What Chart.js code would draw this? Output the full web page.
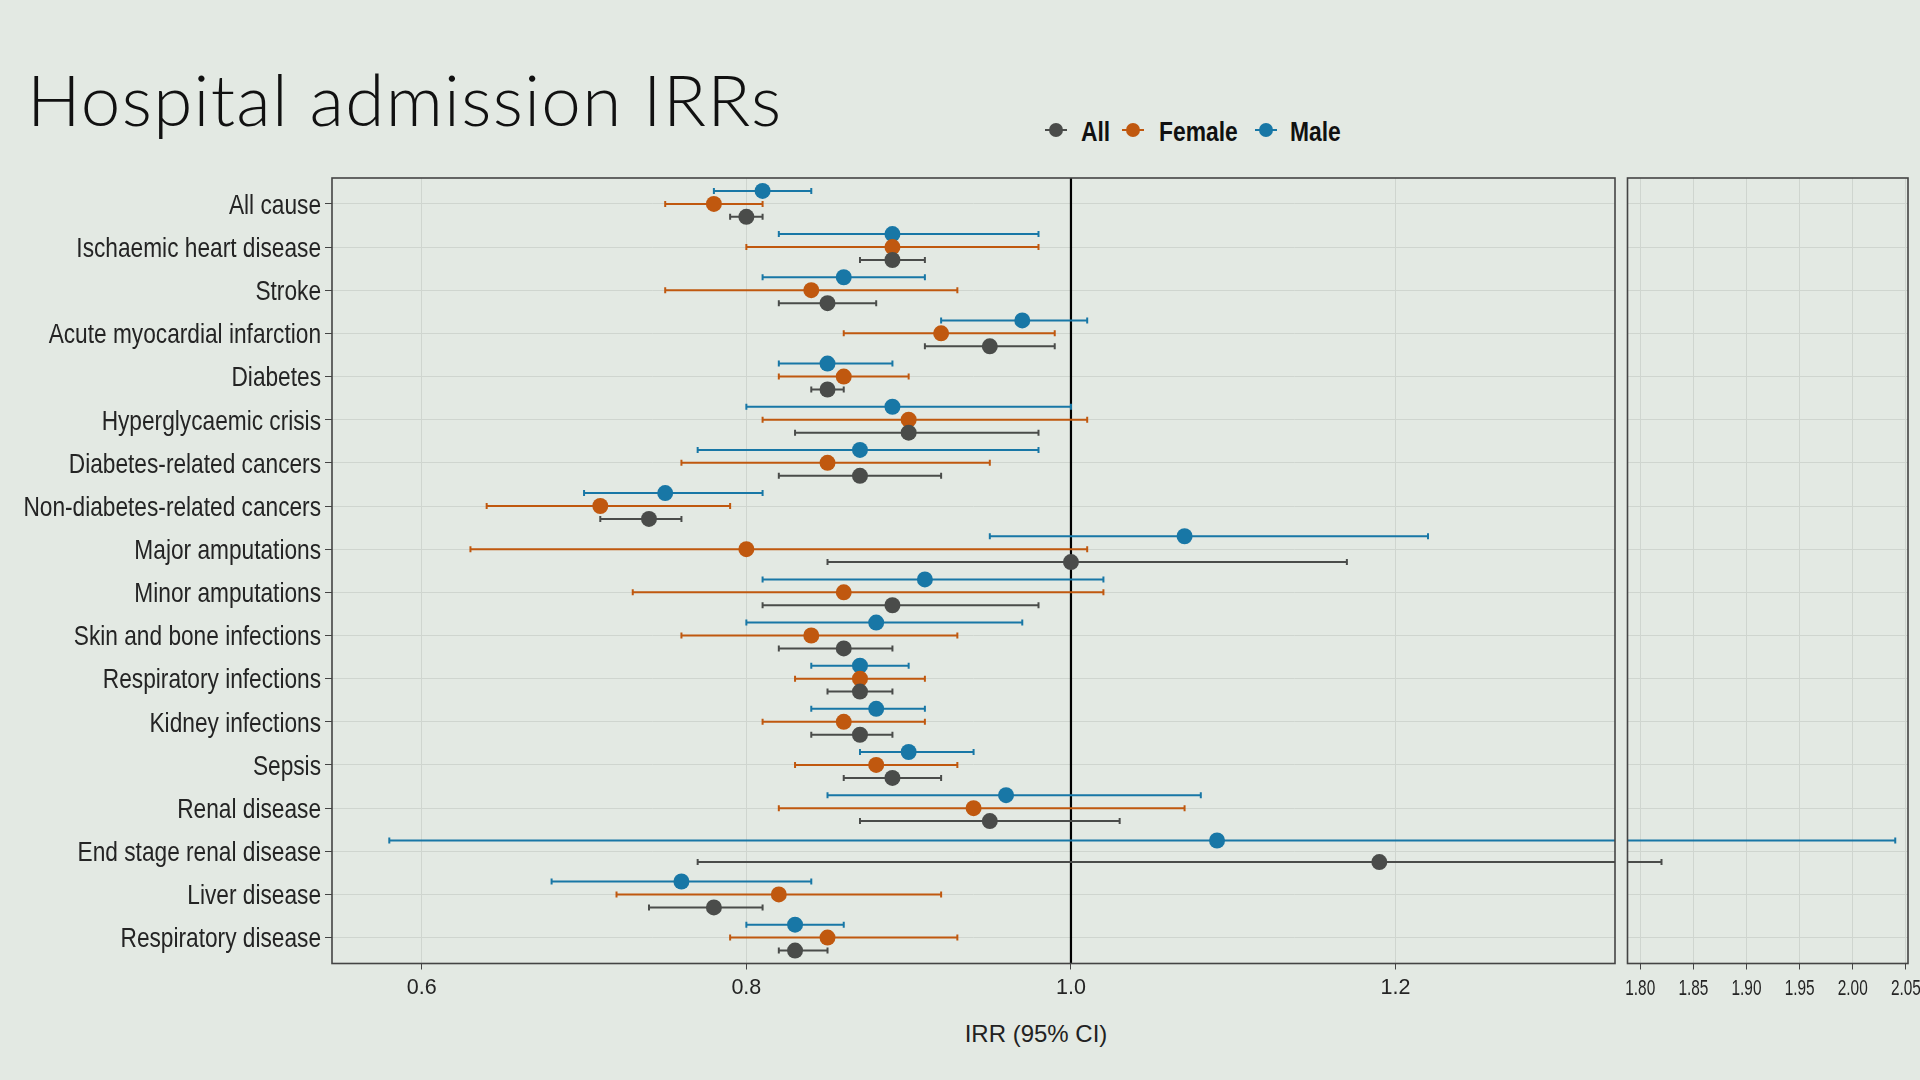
<!DOCTYPE html>
<html>
<head>
<meta charset="utf-8">
<title>Hospital admission IRRs</title>
<script src="https://cdn.jsdelivr.net/npm/chart.js@4.4.1/dist/chart.umd.min.js"></script>
<style>
  html, body { margin: 0; padding: 0; background: #e3e9e3; }
  #page { position: relative; width: 1920px; height: 1080px; overflow: hidden; background: #e3e9e3; }
  h1 {
    position: absolute; left: 27px; top: 63px; margin: 0; letter-spacing: 1.3px;
    font: 300 71px/1 Lato, "Open Sans", sans-serif; color: #111; white-space: nowrap;
  }
  .legend {
    position: absolute; left: 0; top: 118px; height: 28px; width: 1920px;
    font: bold 27.5px/1 "Liberation Sans", Arial, sans-serif; color: #111;
  }
  .legend .key { position: absolute; top: 4px; width: 22px; height: 16px; }
  .legend .key::before { content: ""; position: absolute; left: 0; right: 0; top: 7px; height: 2px; background: var(--c); }
  .legend .key::after { content: ""; position: absolute; left: 4px; top: 1px; width: 14px; height: 14px; border-radius: 50%; background: var(--c); }
  .legend .txt { position: absolute; top: 0; white-space: nowrap; transform: scaleX(0.83); transform-origin: left center; }
  .xtitle {
    position: absolute; left: 1036px; top: 1022px; transform: translateX(-50%);
    font: 24px/1 "Liberation Sans", Arial, sans-serif; color: #222; white-space: nowrap;
  }
  .panel { position: absolute; top: 160px; height: 850px; }
  #main { left: 0; width: 1625px; }
  #brk { left: 1615px; width: 305px; }
</style>
</head>
<body>
<div id="page">
  <h1>Hospital admission IRRs</h1>
  <div class="legend" id="legend"></div>
  <div class="panel" id="main"><canvas id="mainChart"></canvas></div>
  <div class="panel" id="brk"><canvas id="brkChart"></canvas></div>
  <div class="xtitle">IRR (95% CI)</div>
</div>
<script>
// forest plot of IRRs; ESRD has no female estimate
const categories = [
  "All cause", "Ischaemic heart disease", "Stroke", "Acute myocardial infarction",
  "Diabetes", "Hyperglycaemic crisis", "Diabetes-related cancers", "Non-diabetes-related cancers",
  "Major amputations", "Minor amputations", "Skin and bone infections", "Respiratory infections",
  "Kidney infections", "Sepsis", "Renal disease", "End stage renal disease",
  "Liver disease", "Respiratory disease",
];

const allIrr = [0.80, 0.89, 0.85, 0.95, 0.85, 0.90, 0.87, 0.74, 1.00, 0.89, 0.86, 0.87, 0.87, 0.89, 0.95, 1.19, 0.78, 0.83];
const allLo  = [0.79, 0.87, 0.82, 0.91, 0.84, 0.83, 0.82, 0.71, 0.85, 0.81, 0.82, 0.85, 0.84, 0.86, 0.87, 0.77, 0.74, 0.82];
const allHi  = [0.81, 0.91, 0.88, 0.99, 0.86, 0.98, 0.92, 0.76, 1.17, 0.98, 0.89, 0.89, 0.89, 0.92, 1.03, 1.82, 0.81, 0.85];

const femaleIrr = [0.78, 0.89, 0.84, 0.92, 0.86, 0.90, 0.85, 0.71, 0.80, 0.86, 0.84, 0.87, 0.86, 0.88, 0.94, null, 0.82, 0.85];
const femaleLo  = [0.75, 0.80, 0.75, 0.86, 0.82, 0.81, 0.76, 0.64, 0.63, 0.73, 0.76, 0.83, 0.81, 0.83, 0.82, null, 0.72, 0.79];
const femaleHi  = [0.81, 0.98, 0.93, 0.99, 0.90, 1.01, 0.95, 0.79, 1.01, 1.02, 0.93, 0.91, 0.91, 0.93, 1.07, null, 0.92, 0.93];

const maleIrr = [0.81, 0.89, 0.86, 0.97, 0.85, 0.89, 0.87, 0.75, 1.07, 0.91, 0.88, 0.87, 0.88, 0.90, 0.96, 1.09, 0.76, 0.83];
const maleLo  = [0.78, 0.82, 0.81, 0.92, 0.82, 0.80, 0.77, 0.70, 0.95, 0.81, 0.80, 0.84, 0.84, 0.87, 0.85, 0.58, 0.68, 0.80];
const maleHi  = [0.84, 0.98, 0.91, 1.01, 0.89, 1.00, 0.98, 0.81, 1.22, 1.02, 0.97, 0.90, 0.91, 0.94, 1.08, 2.04, 0.84, 0.86];

const mainTicks = [0.6, 0.8, 1.0, 1.2];
const breakTicks = [1.80, 1.85, 1.90, 1.95, 2.00, 2.05];
const refValue = 1.0;

const COLORS = { All: "#4a4c4a", Female: "#c0580f", Male: "#1877a6" };
const GRID = "#cfd5cf";
const REGULAR = "'Liberation Sans', Arial, sans-serif";
const TEXT = "#242424";

// groups top to bottom inside a row; spread depends on how many have data
const groupOrder = [
  { label: "Male", irr: maleIrr, lo: maleLo, hi: maleHi },
  { label: "Female", irr: femaleIrr, lo: femaleLo, hi: femaleHi },
  { label: "All", irr: allIrr, lo: allLo, hi: allHi },
];

function dodge(row, label) {
  const present = groupOrder.filter((g) => g.irr[row] != null).map((g) => g.label);
  const n = present.length;
  const k = present.indexOf(label);
  const width = n === 3 ? 0.6 : 0.5;
  return n > 1 ? -width / 2 + (width * k) / (n - 1) : 0;
}

function buildDatasets() {
  // legend order is All, Female, Male
  return ["All", "Female", "Male"].map((label) => {
    const g = groupOrder.find((x) => x.label === label);
    const data = [];
    g.irr.forEach((v, i) => {
      if (v == null) return;
      data.push({ x: v, y: i + dodge(i, label), lo: g.lo[i], hi: g.hi[i] });
    });
    return {
      label,
      data,
      borderColor: COLORS[label],
      backgroundColor: COLORS[label],
      pointRadius: 8,
      pointHoverRadius: 8,
      pointBorderWidth: 0,
      showLine: false,
    };
  });
}

const forestPlugin = {
  id: "forest",
  beforeDatasetsDraw(chart) {
    const { ctx, chartArea: a } = chart;
    const xs = chart.scales.x, ys = chart.scales.y;
    ctx.save();
    ctx.beginPath();
    ctx.rect(a.left, a.top, a.right - a.left, a.bottom - a.top);
    ctx.clip();

    if (refValue >= xs.min && refValue <= xs.max) {
      const rx = xs.getPixelForValue(refValue);
      ctx.strokeStyle = "#000";
      ctx.lineWidth = 2.2;
      ctx.beginPath();
      ctx.moveTo(rx, a.top);
      ctx.lineTo(rx, a.bottom);
      ctx.stroke();
    }

    chart.data.datasets.forEach((ds) => {
      ctx.strokeStyle = ds.borderColor;
      ctx.lineWidth = 2;
      ds.data.forEach((p) => {
        const y = ys.getPixelForValue(p.y);
        const x1 = xs.getPixelForValue(p.lo);
        const x2 = xs.getPixelForValue(p.hi);
        ctx.beginPath();
        ctx.moveTo(x1, y);
        ctx.lineTo(x2, y);
        ctx.moveTo(x1, y - 3);
        ctx.lineTo(x1, y + 3);
        ctx.moveTo(x2, y - 3);
        ctx.lineTo(x2, y + 3);
        ctx.stroke();
      });
    });
    ctx.restore();
  },
  afterDraw(chart, args, opts) {
    const { ctx, chartArea: a } = chart;
    const xs = chart.scales.x, ys = chart.scales.y;
    ctx.save();
    ctx.strokeStyle = "#444";
    ctx.lineWidth = 1.6;
    ctx.strokeRect(a.left, a.top, a.right - a.left, a.bottom - a.top);

    // the slide's axis text is set in a condensed face; squeeze the labels to match
    ctx.fillStyle = TEXT;
    ctx.textBaseline = "alphabetic";
    if (opts.yLabels) {
      const size = 27.5;
      ctx.font = `${size}px ${REGULAR}`;
      ctx.textAlign = "right";
      ys.ticks.forEach((t) => {
        ctx.save();
        ctx.translate(a.left - 11, ys.getPixelForValue(t.value) + size * 0.358);
        ctx.scale(0.825, 1);
        ctx.fillText(categories[t.value], 0, 0);
        ctx.restore();
      });
    }
    if (opts.xLabels) {
      const size = 22;
      ctx.font = `${size}px ${REGULAR}`;
      ctx.textAlign = "center";
      xs.ticks.forEach((t) => {
        ctx.save();
        ctx.translate(xs.getPixelForValue(t.value), a.bottom + 31);
        ctx.scale(0.7, 1);
        ctx.fillText(Number(t.value).toFixed(2), 0, 0);
        ctx.restore();
      });
    }
    ctx.restore();
  },
};

function makeChart(canvasId, opts) {
  return new Chart(document.getElementById(canvasId), {
    type: "scatter",
    data: { datasets: buildDatasets() },
    plugins: [forestPlugin],
    options: {
      responsive: true,
      maintainAspectRatio: false,
      animation: false,
      events: [],
      layout: { padding: { top: 18, right: opts.padRight, left: 0, bottom: 0 } },
      plugins: {
        legend: { display: false },
        tooltip: { enabled: false },
        forest: { yLabels: opts.yLabels, xLabels: opts.condensedX },
      },
      scales: {
        x: {
          type: "linear",
          min: opts.xMin,
          max: opts.xMax,
          afterBuildTicks: (s) => { s.ticks = opts.ticks.map((v) => ({ value: v })); },
          afterFit: (s) => { s.height = 46.5; s.paddingLeft = 0; s.paddingRight = 0; },
          border: { display: false },
          grid: { color: GRID, lineWidth: 1, tickColor: "#444", tickLength: 6 },
          ticks: {
            display: !opts.condensedX,
            color: TEXT,
            padding: 6,
            maxRotation: 0,
            font: { family: REGULAR, size: 21.5 },
            callback: (v) => Number(v).toFixed(1),
          },
        },
        y: {
          type: "linear",
          reverse: true,
          min: -0.6,
          max: 17.6,
          afterBuildTicks: (s) => { s.ticks = categories.map((c, i) => ({ value: i })); },
          afterFit: (s) => { s.width = opts.yWidth; s.paddingTop = 0; s.paddingBottom = 0; },
          border: { display: false },
          grid: { color: GRID, lineWidth: 1, tickColor: "#444", tickLength: 7, drawTicks: opts.yLabels },
          ticks: { display: false },
        },
      },
    },
  });
}

function renderLegend() {
  // key centre and text start for each entry, as placed on the slide
  const spots = { All: [1056, 1081], Female: [1133, 1159], Male: [1266, 1290] };
  document.getElementById("legend").innerHTML = ["All", "Female", "Male"].map((l) =>
    `<span class="key" style="--c:${COLORS[l]};left:${spots[l][0] - 11}px"></span>` +
    `<span class="txt" style="left:${spots[l][1]}px">${l}</span>`
  ).join("");
}

renderLegend();
makeChart("mainChart", {
  xMin: 0.5447, xMax: 1.3352, ticks: mainTicks, padRight: 10, yWidth: 332, yLabels: true, condensedX: false,
});
makeChart("brkChart", {
  xMin: 1.788, xMax: 2.052, ticks: breakTicks, padRight: 12, yWidth: 12.5, yLabels: false, condensedX: true,
});
</script>
</body>
</html>
